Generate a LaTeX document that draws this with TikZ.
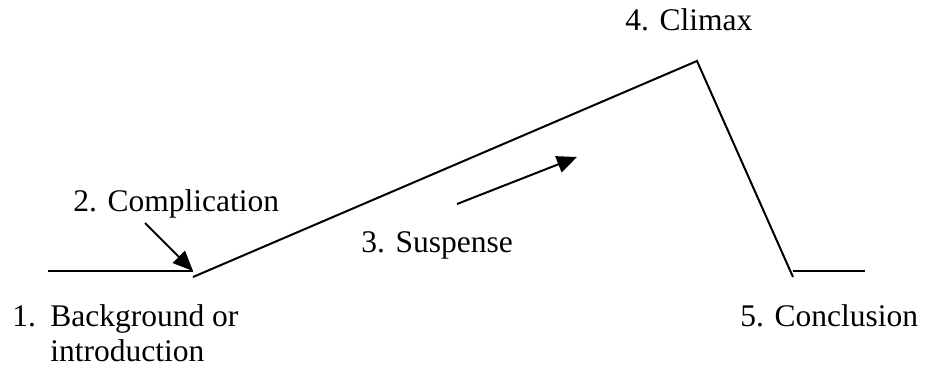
\documentclass[tikz,border=0pt]{standalone}
\usepackage{fontspec}
\setmainfont{Liberation Serif}
\usepackage{tikz}
\usetikzlibrary{positioning, calc, arrows.meta}

\begin{document}
\begin{tikzpicture}[
	x=0.5pt, y=-0.5pt,
	>={Triangle[length=10pt, width=8.5pt]},
	plot line/.style={draw=black, line width=1pt},
	pointer/.style={->, draw=black, line width=1pt, shorten >=0pt},
	label text/.style={anchor=base west, inner sep=0pt, font=\fontsize{15.75}{18}\selectfont}
	]
	
	\useasboundingbox (0,0) rectangle (925,366);
	
	% --- CORNERS OF THE PLOT LINE ---
	\coordinate (startL) at (48,271);
	\coordinate (endL) at (193,271);
	\coordinate (rise) at (193,277);
	\coordinate (peak) at (697,61);
	\coordinate (fall) at (793,277);
	\coordinate (startR) at (793,271);
	\coordinate (endR) at (865,271);
	
	% Background and conclusion
	\draw[plot line] (startL) -- (endL);
	\draw[plot line] (startR) -- (endR);
	
	% Rising action and falling action
	\draw[plot line] (rise) -- (peak) -- (fall);
	
	% --- LABELS ---
	\node[label text] (climax) at (625,30) {4. Climax};
	\node[label text] (complication) at (73,211) {2. Complication};
	\node[label text] (suspense) at (361,252) {3. Suspense};
	\node[label text] (bgnum) at (12,326) {1.};
	\node[label text] (background) at (50,326) {Background or};
	\node[label text] (intro) at (50,361) {introduction};
	\node[label text] (conclusion) at (740,326) {5. Conclusion};
	
	% --- ARROWS ---
	\coordinate (cTail) at (145,223);
	\coordinate (sTail) at (457,204);
	\coordinate (sHead) at (577,157);
	\draw[pointer] (cTail) -- (endL);
	\draw[pointer] (sTail) -- (sHead);
	
\end{tikzpicture}
\end{document}
